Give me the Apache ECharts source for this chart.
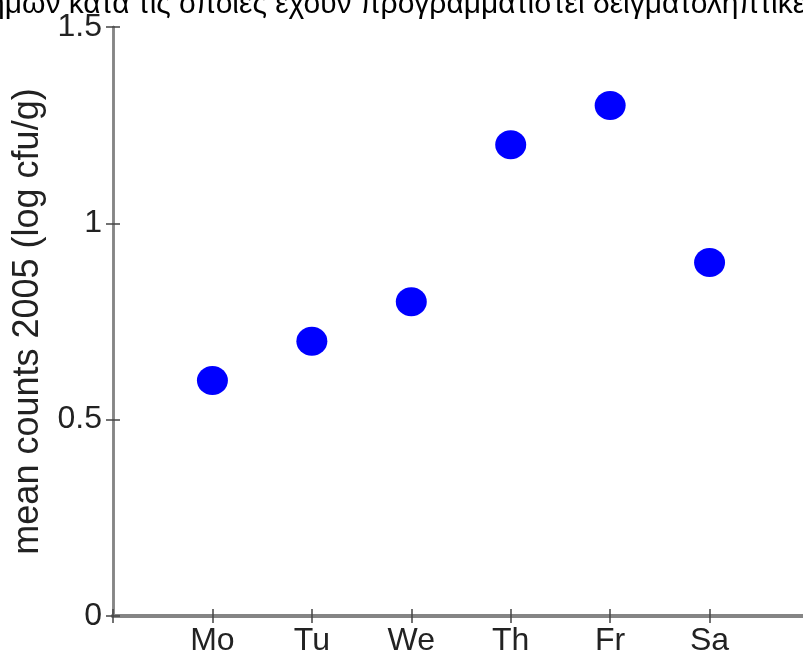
<!DOCTYPE html>
<html>
<head>
<meta charset="utf-8">
<script src="https://cdn.jsdelivr.net/npm/echarts@6/dist/echarts.min.js"></script>
<style>html,body{margin:0;padding:0;background:#fff;overflow:hidden}#c{width:830px;height:661px}</style>
</head>
<body>
<div id="c"></div>
<script>
const days = ['Mo', 'Tu', 'We', 'Th', 'Fr', 'Sa'];
const meanCounts = [0.6, 0.7, 0.8, 1.2, 1.3, 0.9];
const yTicks = [0, 0.5, 1, 1.5];
const titleText = 'ημών κατά τις οποίες έχουν προγραμματιστεί δειγματοληπτικές';
const yName = 'mean counts 2005 (log cfu/g)';

const chart = echarts.init(document.getElementById('c'));
const axisColor = '#858585';
const labelFont = 'Liberation Sans';
const tickCommon = { show: true, inside: true, length: 7, lineStyle: { color: '#444', width: 1.5 } };

chart.setOption({
  animation: false,
  graphic: [{
    type: 'text',
    left: -12,
    top: -10,
    style: { text: titleText, font: '30px "Liberation Sans"', fill: '#000' }
  }],
  grid: { left: 113, top: 27, width: 696, height: 589 },
  xAxis: [{
    type: 'value', min: 0, max: 7, interval: 1,
    axisLine: { show: true, lineStyle: { color: axisColor, width: 4 } },
    axisTick: tickCommon,
    splitLine: { show: false },
    axisLabel: {
      fontFamily: labelFont, fontSize: 32, color: '#222', margin: 9,
      formatter: v => (v >= 1 && v <= days.length) ? days[v - 1] : ''
    }
  }, {
    type: 'value', min: 0, max: 7, interval: 1, position: 'top',
    axisLine: { show: true, lineStyle: { color: axisColor, width: 4 } },
    axisTick: tickCommon, axisLabel: { show: false }, splitLine: { show: false }
  }],
  yAxis: [{
    type: 'value', min: yTicks[0], max: yTicks[yTicks.length - 1], interval: 0.5,
    axisLine: { show: true, lineStyle: { color: axisColor, width: 2.5 } },
    axisTick: tickCommon,
    splitLine: { show: false },
    axisLabel: { fontFamily: labelFont, fontSize: 32, color: '#222', margin: 11 },
    name: yName, nameLocation: 'middle', nameGap: 67,
    nameTextStyle: { fontFamily: labelFont, fontSize: 36, color: '#222' }
  }, {
    type: 'value', min: 0, max: 1.5, interval: 0.5, position: 'right',
    axisLine: { show: true, lineStyle: { color: axisColor, width: 2.5 } },
    axisTick: tickCommon, axisLabel: { show: false }, splitLine: { show: false }
  }],
  series: [{
    type: 'scatter',
    symbol: 'circle',
    symbolSize: [31, 29],
    itemStyle: { color: '#0000ff', opacity: 1 },
    data: days.map((d, i) => [i + 1, meanCounts[i]])
  }]
});
</script>
</body>
</html>
